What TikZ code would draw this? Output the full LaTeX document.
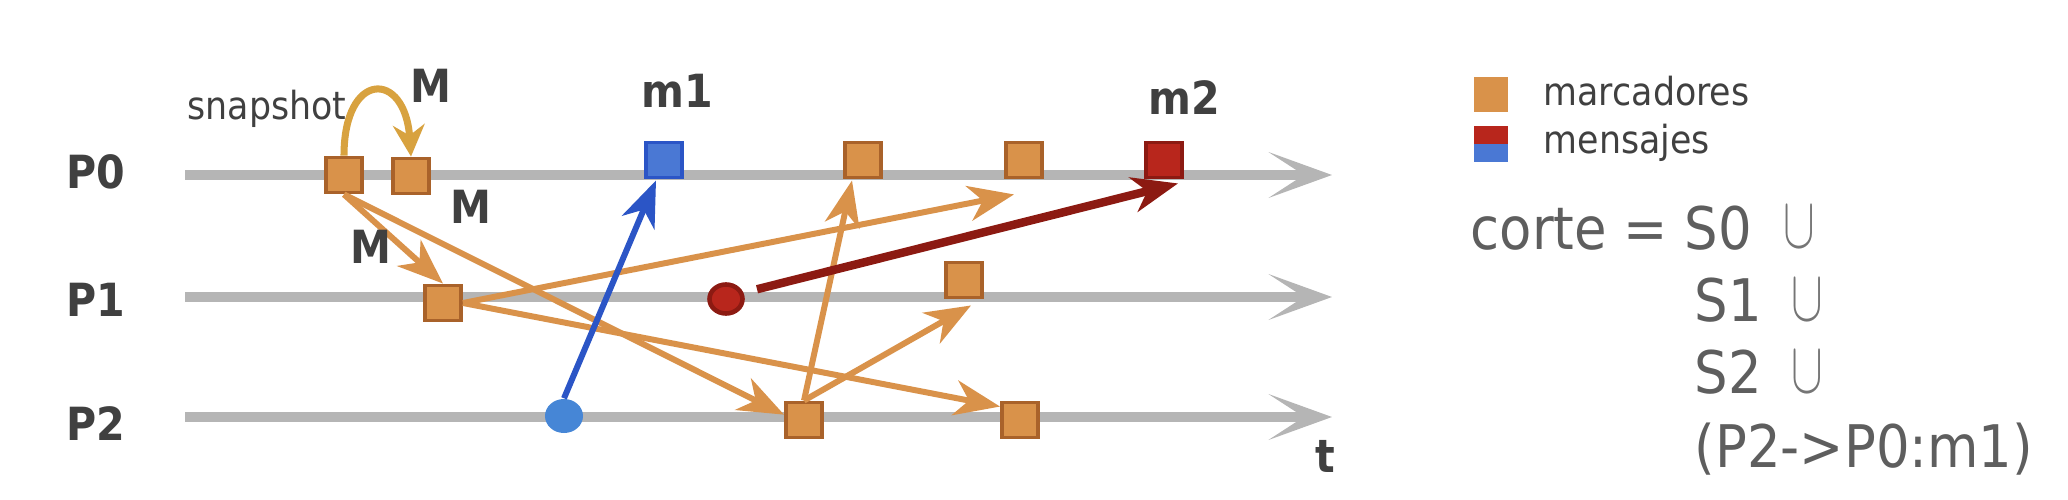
\documentclass[tikz,border=0pt]{standalone}
\usepackage{fontspec}
\setmainfont{DejaVu Sans}[FakeStretch=0.9]
\usepackage{graphicx}
\usetikzlibrary{arrows.meta,shapes.geometric}
\definecolor{markfill}{HTML}{D9924A}
\definecolor{markdraw}{HTML}{A9622A}
\definecolor{snapline}{HTML}{D8A23F}
\definecolor{bluefill}{HTML}{4A78D4}
\definecolor{bluedraw}{HTML}{2B55C6}
\definecolor{bluedot}{HTML}{4686D6}
\definecolor{redfill}{HTML}{B8261C}
\definecolor{reddraw}{HTML}{8C1A12}
\definecolor{timegray}{HTML}{B5B5B5}
\definecolor{labeltext}{HTML}{404040}
\definecolor{cuttext}{HTML}{5E5E5E}
\definecolor{cupgray}{HTML}{757575}
\begin{document}
\begin{tikzpicture}
[x=0.01cm,y=-0.01cm,
  markdecorate/.style={shape=rectangle,inner sep=0pt,minimum width=0.36cm,minimum height=0.35cm,fill=markfill,draw=markdraw,line width=1.1pt},
  m1decorate/.style={markdecorate,fill=bluefill,draw=bluedraw},
  m2decorate/.style={markdecorate,fill=redfill,draw=reddraw},
  bluedotdecorate/.style={shape=ellipse,inner sep=0pt,minimum width=0.38cm,minimum height=0.34cm,fill=bluedot},
  reddotdecorate/.style={shape=ellipse,inner sep=0pt,minimum width=0.33cm,minimum height=0.29cm,fill=redfill,draw=reddraw,line width=1.3pt},
  legenddecorate/.style={shape=rectangle,inner sep=0pt,minimum width=0.34cm,minimum height=0.35cm},
  timedecorate/.style={-{Stealth[length=18pt,width=13pt,inset=10pt]},line width=2.6pt,timegray},
  orangedecorate/.style={-{Stealth[length=13pt,width=10pt,inset=4pt]},line width=1.7pt,markfill},
  bluedecorate/.style={orangedecorate,bluedraw},
  reddecorate/.style={orangedecorate,reddraw,line width=2.4pt,shorten <=4pt},
  snapdecorate/.style={-{Stealth[length=9pt,width=9pt,inset=3pt]},line width=2pt,snapline},
  labeldecorate/.style={text=labeltext,font=\fontsize{13}{15}\selectfont\bfseries,inner sep=0pt},
  legendtext/.style={text=labeltext,font=\fontsize{11}{13}\selectfont,inner sep=0pt},
  cutdecorate/.style={text=cuttext,font=\fontsize{16.7}{20}\selectfont,inner sep=0pt},
  cupdecorate/.style={text=cupgray,font=\fontsize{20.5}{24}\selectfont,inner sep=0pt}]
\useasboundingbox (0,0) rectangle (2068,500);
%% process lines
\foreach \procname/\y/\ly in {0/175/172, 1/297/300, 2/417/424}
{
  \coordinate (P\procname s) at (185,\y);
  \coordinate (P\procname e) at (1332,\y);
  \draw[timedecorate] (P\procname s) -- (P\procname e);
  \node (P\procname) at (96,\ly) [labeldecorate] {P\procname};
}
%% markers and messages
\foreach \nodename/\kind/\x/\y in {q0a/markdecorate/344/175,
  q0b/markdecorate/411/176, m1/m1decorate/664/160, q0c/markdecorate/863/160,
  q0d/markdecorate/1024/160, m2/m2decorate/1164/160, q1a/markdecorate/443/303,
  r1/reddotdecorate/726/299, q1b/markdecorate/964/280, u2/bluedotdecorate/564/416,
  q2a/markdecorate/804/420, q2b/markdecorate/1020/420}
{
  \node (\nodename) at (\x,\y) [\kind] {};
}
%% sent markers and messages
\path
\foreach \startnode/\endnode/\dx/\dy/\kind in {q0a.south/q1a.north/0/0/orangedecorate,
  q0a.south/q2a.165/0/0/orangedecorate, q1a.east/q0d.south/-10/15/orangedecorate,
  q1a.east/q2b.north west/0/6/orangedecorate, q2a.north/q0c.south/-11/1/orangedecorate,
  q2a.north/q1b.south/7/6/orangedecorate, u2.north/m1.south/-8/1/bluedecorate,
  r1.20/m2.south/14/4/reddecorate} {
  (\startnode) edge[\kind] ([shift={(\dx,\dy)}]\endnode)
};
\draw[snapdecorate] (q0a.north) .. controls (344,70) and (405,70) .. (q0b.north);
%% labels
\node[labeldecorate,anchor=base] (lm1) at (677,107) {m1};
\node[labeldecorate,anchor=base] (lm2) at (1184,114) {m2};
\foreach \labelname/\x/\y in {ma/431/103, mb/471/223, mc/371/263}
  \node[labeldecorate,anchor=base] (\labelname) at (\x,\y) {M};
\node[labeldecorate,anchor=base] (tlabel) at (1325,472) {t};
\node[legendtext,anchor=base] (snaplabel) at (267,120) {snapshot};
%% legend
\node[legenddecorate,fill=markfill] (legmark) at (1491,94.5) {};
\node[legenddecorate,minimum height=0.18cm,fill=redfill] (legred) at (1491,135) {};
\node[legenddecorate,minimum height=0.18cm,fill=bluefill] (legblue) at (1491,153) {};
\node[legendtext,anchor=base west] (legmarktext) at (1543,105) {marcadores};
\node[legendtext,anchor=base west] (legmsgtext) at (1543,153) {mensajes};
%% cut
\node[cutdecorate,anchor=base west] (cut0) at (1470,249) {corte = S0};
\node[cutdecorate,anchor=base west] (cut1) at (1694,321) {S1};
\node[cutdecorate,anchor=base west] (cut2) at (1694,393) {S2};
\node[cutdecorate,anchor=base west] (cut3) at (1694,467) {(P2->P0:m1)};
\foreach \cupname/\x/\y in {0/1783/248, 1/1791/320, 2/1791/392}
  \node[cupdecorate,anchor=base west] (cup\cupname) at (\x,\y) {\scalebox{0.65}[1]{$\cup$}};
\end{tikzpicture}
\end{document}
